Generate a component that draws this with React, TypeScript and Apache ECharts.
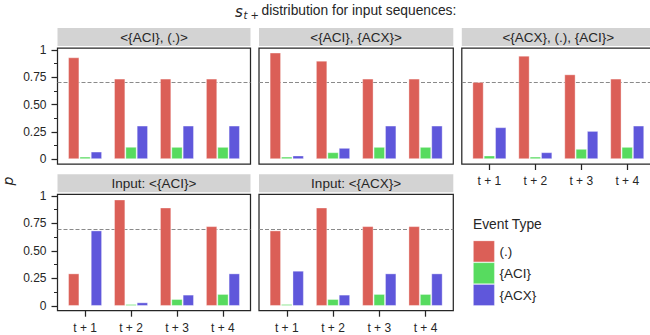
import React, { useEffect, useRef } from 'react';
import * as echarts from 'echarts';

const categories = ['t + 1', 't + 2', 't + 3', 't + 4'];
const panelTitles = ['<{ACI}, (.)>', '<{ACI}, {ACX}>', '<{ACX}, (.), {ACI}>', 'Input: <{ACI}>', 'Input: <{ACX}>'];
const eventTypes = ['(.)', '{ACI}', '{ACX}'];

// one row per panel, one value per category
const dotValues = [
  [0.933, 0.738, 0.738, 0.738],
  [0.976, 0.902, 0.738, 0.738],
  [0.707, 0.948, 0.777, 0.738],
  [0.296, 0.967, 0.894, 0.725],
  [0.686, 0.894, 0.725, 0.725],
];
const aciValues = [
  [0.024, 0.113, 0.113, 0.113],
  [0.024, 0.064, 0.113, 0.113],
  [0.034, 0.024, 0.095, 0.113],
  [0.009, 0.018, 0.063, 0.109],
  [0.018, 0.063, 0.109, 0.109],
];
const acxValues = [
  [0.07, 0.308, 0.308, 0.308],
  [0.034, 0.104, 0.308, 0.308],
  [0.293, 0.064, 0.259, 0.308],
  [0.686, 0.033, 0.103, 0.296],
  [0.32, 0.103, 0.296, 0.296],
];
const yTicks = [0, 0.25, 0.5, 0.75, 1];
const yTickLabels = ['0', '0.25', '0.50', '0.75', '1'];
const yMinorTicks = [0.125, 0.375, 0.625, 0.875];
const threshold = 0.7;

const colors = ['#db5f57', '#57db5f', '#5f57db'];
const ink = '#262626';
const FONT = '"Liberation Sans", Arial, sans-serif';

const panelBoxes = [
  { left: 57.5, top: 48, width: 193, height: 116, yMin: -0.044, yMax: 1.018, yLab: true, xLab: false },
  { left: 259, top: 48, width: 194.3, height: 116, yMin: -0.044, yMax: 1.018, yLab: false, xLab: false },
  { left: 461.8, top: 48, width: 193, height: 116, yMin: -0.044, yMax: 1.018, yLab: false, xLab: true },
  { left: 57.5, top: 194.3, width: 193, height: 116.4, yMin: -0.043, yMax: 1.014, yLab: true, xLab: true },
  { left: 259, top: 194.3, width: 194.3, height: 116.4, yMin: -0.043, yMax: 1.014, yLab: false, xLab: true },
];

function buildOption() {
  const valuesByType = [dotValues, aciValues, acxValues];
  const grids: any[] = [];
  const xAxes: any[] = [];
  const yAxes: any[] = [];
  const series: any[] = [];
  const graphics: any[] = [];
  const xIdx = categories.map((_, i) => i);

  panelBoxes.forEach((b, p) => {
    grids.push({
      left: b.left, top: b.top, width: b.width, height: b.height,
      show: true, borderColor: ink, borderWidth: 1.25, backgroundColor: 'transparent',
      containLabel: false, outerBoundsMode: 'none',
    });
    xAxes.push({
      gridIndex: p, type: 'value', min: -0.6, max: 3.6,
      axisLine: { show: false, onZero: false },
      splitLine: { show: false },
      axisTick: { show: b.xLab, customValues: xIdx, length: 6, lineStyle: { color: ink, width: 1.25 } },
      axisLabel: {
        show: b.xLab, customValues: xIdx, margin: 11, fontSize: 12, color: ink, fontFamily: FONT,
        formatter: (v: number) => categories[Math.round(v)] ?? '',
      },
    });
    const primary = yAxes.length;
    yAxes.push({
      gridIndex: p, type: 'value', position: 'left', min: b.yMin, max: b.yMax,
      axisLine: { show: false, onZero: false },
      splitLine: { show: false },
      axisTick: { show: b.yLab, customValues: yTicks, length: 6, lineStyle: { color: ink, width: 1.25 } },
      axisLabel: {
        show: b.yLab, customValues: yTicks, margin: 11, fontSize: 12, color: ink, fontFamily: FONT,
        formatter: (v: number) => {
          const k = yTicks.findIndex((t) => Math.abs(t - v) < 1e-6);
          return k >= 0 ? yTickLabels[k] : '';
        },
      },
    });
    if (b.yLab) {
      yAxes.push({
        gridIndex: p, type: 'value', position: 'left', min: b.yMin, max: b.yMax,
        axisLine: { show: false, onZero: false },
        splitLine: { show: false },
        axisLabel: { show: false },
        axisTick: { show: true, customValues: yMinorTicks, length: 3.5, lineStyle: { color: ink, width: 1 } },
      });
    }
    eventTypes.forEach((name, k) => {
      const s: any = {
        type: 'bar', name, xAxisIndex: p, yAxisIndex: primary,
        data: xIdx.map((i) => [i, valuesByType[k][p][i]]),
        itemStyle: { color: colors[k], borderColor: 'rgba(255,255,255,0.35)', borderWidth: 1 },
        barGap: '0%', barCategoryGap: '26%',
      };
      if (k === 0) {
        s.markLine = {
          silent: true, symbol: 'none', z: 1,
          label: { show: false },
          lineStyle: { type: [4, 2], color: '#8a8a8a', width: 1 },
          data: [{ yAxis: threshold }],
        };
      }
      series.push(s);
    });
    graphics.push({
      type: 'rect', shape: { x: b.left, y: b.top - 20, width: b.width, height: 18 },
      style: { fill: '#d3d3d3' }, silent: true,
    });
    graphics.push({
      type: 'text', x: b.left + b.width / 2, y: b.top - 10.5,
      style: { text: panelTitles[p], fontSize: 13.5, fontFamily: FONT, fill: ink, align: 'center', verticalAlign: 'middle' },
      silent: true,
    });
  });

  graphics.push(
    { type: 'text', x: 235, y: 12, style: { text: 's', fontSize: 15, fontStyle: 'italic', fontFamily: '"DejaVu Sans", sans-serif', fill: ink, align: 'left', verticalAlign: 'middle' } },
    { type: 'text', x: 243.5, y: 15, style: { text: 't +', fontSize: 10, fontStyle: 'italic', fontFamily: '"DejaVu Sans", sans-serif', fill: ink, align: 'left', verticalAlign: 'middle' } },
    { type: 'text', x: 261.5, y: 10.5, style: { text: 'distribution for input sequences:', fontSize: 13.8, fontFamily: FONT, fill: ink, align: 'left', verticalAlign: 'middle' } },
    { type: 'text', x: 8, y: 181, rotation: Math.PI / 2, style: { text: 'p', fontSize: 14, fontStyle: 'italic', fontFamily: '"DejaVu Sans", sans-serif', fill: ink, align: 'center', verticalAlign: 'middle' } },
    { type: 'text', x: 473, y: 224, style: { text: 'Event Type', fontSize: 13.8, fontFamily: FONT, fill: ink, align: 'left', verticalAlign: 'middle' } },
  );

  return {
    animation: false,
    textStyle: { fontFamily: FONT },
    grid: grids,
    xAxis: xAxes,
    yAxis: yAxes,
    series,
    graphic: graphics,
    legend: {
      data: eventTypes,
      orient: 'vertical', left: 473, top: 240.5, padding: 0,
      itemWidth: 21, itemHeight: 21, itemGap: 0, icon: 'rect',
      itemStyle: { borderWidth: 0.8, borderColor: 'rgba(255,255,255,0.35)' },
      textStyle: { fontSize: 13.5, color: ink, fontFamily: FONT, lineHeight: 16 },
      selectedMode: false,
    },
  };
}

export default function App() {
  const ref = useRef<HTMLDivElement>(null);
  useEffect(() => {
    document.body.style.margin = '0';
    const chart = echarts.init(ref.current!, undefined, { renderer: 'svg' });
    chart.setOption(buildOption() as any);
    return () => chart.dispose();
  }, []);
  return <div ref={ref} style={{ position: 'absolute', left: 0, top: 0, width: 650, height: 335 }} />;
}
